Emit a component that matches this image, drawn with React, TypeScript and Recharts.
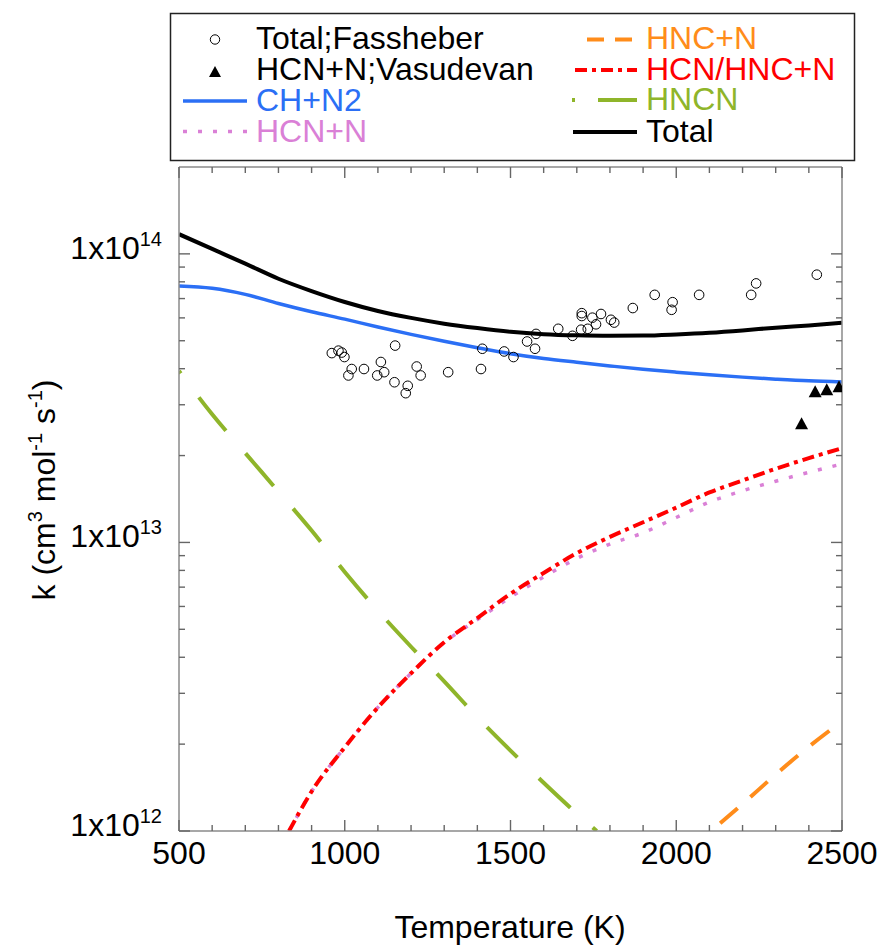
import React from 'react';
import { ComposedChart, Line, Scatter, XAxis, YAxis } from 'recharts';

// model curves
const T_GRID = [500, 600, 700, 800, 900, 1000, 1100, 1200, 1300, 1400, 1500, 1600, 1700, 1800, 1900, 2000, 2100, 2200, 2300, 2400, 2500];
const K_TOTAL = [1.17e14, 1.04e14, 9.25e13, 8.2e13, 7.43e13, 6.81e13, 6.34e13, 6.0e13, 5.73e13, 5.53e13, 5.37e13, 5.27e13, 5.22e13, 5.2e13, 5.21e13, 5.26e13, 5.33e13, 5.43e13, 5.55e13, 5.65e13, 5.77e13];
const K_CHN2 = [7.74e13, 7.6e13, 7.24e13, 6.73e13, 6.3e13, 5.94e13, 5.58e13, 5.26e13, 4.98e13, 4.73e13, 4.51e13, 4.34e13, 4.21e13, 4.09e13, 3.98e13, 3.89e13, 3.81e13, 3.74e13, 3.68e13, 3.63e13, 3.6e13];

const T_HCN = [832, 900, 1000, 1100, 1200, 1300, 1400, 1500, 1600, 1700, 1800, 1900, 2000, 2100, 2200, 2300, 2400, 2500];
const K_HCN_HNC = [1.0e12, 1.37e12, 1.95e12, 2.68e12, 3.52e12, 4.51e12, 5.47e12, 6.64e12, 7.84e12, 9.18e12, 1.045e13, 1.175e13, 1.32e13, 1.49e13, 1.64e13, 1.8e13, 1.96e13, 2.12e13];
const K_HCN = [1.0e12, 1.37e12, 1.95e12, 2.68e12, 3.52e12, 4.5e12, 5.4e12, 6.46e12, 7.59e12, 8.8e12, 9.87e12, 1.08e13, 1.22e13, 1.38e13, 1.51e13, 1.63e13, 1.75e13, 1.87e13];

const T_HNCN = [500, 600, 700, 800, 900, 1000, 1100, 1200, 1300, 1400, 1500, 1600, 1700, 1760];
const K_HNCN = [3.93e13, 2.78e13, 2.04e13, 1.5e13, 1.1e13, 7.9e12, 5.8e12, 4.35e12, 3.3e12, 2.48e12, 1.9e12, 1.47e12, 1.15e12, 1.0e12];

const T_HNC = [2105, 2200, 2300, 2400, 2500];
const K_HNC = [1.0e12, 1.24e12, 1.57e12, 1.96e12, 2.4e12];

// measurements
const T_FASSHEBER = [961, 981, 991, 999, 1021, 1011, 1058, 1109, 1119, 1098, 1152, 1150, 1190, 1184, 1217, 1229, 1312, 1411, 1415, 1481, 1509, 1550, 1574, 1577, 1644, 1687, 1715, 1715, 1713, 1733, 1747, 1758, 1773, 1803, 1813, 1869, 1935, 1989, 1986, 2069, 2226, 2241, 2424];
const K_FASSHEBER = [4.53e13, 4.62e13, 4.55e13, 4.39e13, 3.99e13, 3.79e13, 3.99e13, 4.22e13, 3.89e13, 3.79e13, 4.81e13, 3.59e13, 3.49e13, 3.29e13, 4.07e13, 3.79e13, 3.89e13, 3.99e13, 4.69e13, 4.59e13, 4.39e13, 4.97e13, 4.69e13, 5.28e13, 5.5e13, 5.2e13, 6.23e13, 6.09e13, 5.46e13, 5.5e13, 6.01e13, 5.7e13, 6.19e13, 5.91e13, 5.78e13, 6.49e13, 7.21e13, 6.8e13, 6.4e13, 7.21e13, 7.21e13, 7.9e13, 8.47e13];
const T_VASUDEVAN = [2378, 2419, 2454, 2491];
const K_VASUDEVAN = [2.58e13, 3.33e13, 3.38e13, 3.46e13];

const X_TICKS = [500, 600, 700, 800, 900, 1000, 1100, 1200, 1300, 1400, 1500, 1600, 1700, 1800, 1900, 2000, 2100, 2200, 2300, 2400, 2500];
const Y_MAJOR = [1e12, 1e13, 1e14];
const Y_MINOR_MULT = [2, 3, 4, 5, 6, 7, 8, 9];

const zip = (ts: number[], ks: number[]) => ts.map((T, i) => ({ T, k: ks[i] }));
const yTicks = [...Y_MAJOR, ...Y_MAJOR.slice(0, 2).flatMap((d) => Y_MINOR_MULT.map((m) => m * d))].sort((a, b) => a - b);

const FONT = '"Liberation Sans", Arial, Helvetica, sans-serif';
const PL = 179;
const PR = 842;
const PT = 167;
const PB = 831;
const AXIS = '#8a8a8a';
const TICK = '#666';

const C = {
  chn2: '#2b6ff5',
  hcn: '#da80d6',
  hnc: '#ff8c1a',
  hcnhnc: '#ff0000',
  hncn: '#8fb52a',
  total: '#000000',
};

const DASH = {
  hnc: '23 17',
  hcnhnc: '12 5 4 5',
  hcn: '4 11',
  hncn: '43 30',
};

// tick marks point inward, majors longer
const BottomTick = (props: any) => {
  const { x, payload } = props;
  const v = payload.value;
  const major = v % 500 === 0;
  return (
    <g>
      <path d={`M${x},${PB}V${PB - (major ? 11 : 6)}`} stroke={TICK} strokeWidth={1.4} />
      {major && (
        <text x={x} y={864} textAnchor="middle" fontSize={32} fontFamily={FONT} fill="#000">
          {v}
        </text>
      )}
    </g>
  );
};

const TopTick = (props: any) => {
  const { x, payload } = props;
  const major = payload.value % 500 === 0;
  return <path d={`M${x},${PT}V${PT + (major ? 11 : 6)}`} stroke={TICK} strokeWidth={1.4} />;
};

const LeftTick = (props: any) => {
  const { y, payload } = props;
  const v = payload.value;
  const major = Y_MAJOR.includes(v);
  const exp = Math.round(Math.log10(v));
  return (
    <g>
      <path d={`M${PL},${y}H${PL + (major ? 11 : 6)}`} stroke={TICK} strokeWidth={1.4} />
      {major && (
        <text x={162} y={y + 5} textAnchor="end" fontSize={32} fontFamily={FONT} fill="#000">
          1x10
          <tspan dy={-13} fontSize={20}>
            {exp}
          </tspan>
        </text>
      )}
    </g>
  );
};

const RightTick = (props: any) => {
  const { y, payload } = props;
  const major = Y_MAJOR.includes(payload.value);
  return <path d={`M${PR},${y}H${PR - (major ? 11 : 6)}`} stroke={TICK} strokeWidth={1.4} />;
};

const OpenCircle = (props: any) => (
  <circle cx={props.cx} cy={props.cy} r={4.8} fill="none" stroke="#000" strokeWidth={1} />
);

const FilledTriangle = (props: any) => {
  const { cx, cy } = props;
  return <polygon points={`${cx},${cy - 6.5} ${cx + 6.5},${cy + 5.5} ${cx - 6.5},${cy + 5.5}`} fill="#000" />;
};

const LegendOverlay = () => {
  const txt = { fontSize: 32, fontFamily: FONT } as const;
  return (
    <svg width={881} height={945} style={{ position: 'absolute', left: 0, top: 0, pointerEvents: 'none' }}>
      <rect x={170.5} y={13.5} width={684} height={147} fill="#fff" stroke="#222" strokeWidth={1.5} />
      {/* left column */}
      <circle cx={215} cy={39.5} r={4.7} fill="none" stroke="#000" />
      <text x={256} y={49} fill="#000" {...txt}>Total;Fassheber</text>
      <polygon points="215,66 221,77 209,77" fill="#000" />
      <text x={256} y={80} fill="#000" {...txt}>HCN+N;Vasudevan</text>
      <line x1={183} x2={247} y1={101} y2={101} stroke={C.chn2} strokeWidth={3.5} />
      <text x={256} y={111} fill={C.chn2} {...txt}>CH+N2</text>
      <line x1={183} x2={247} y1={131.5} y2={131.5} stroke={C.hcn} strokeWidth={3.5} strokeDasharray={DASH.hcn} />
      <text x={256} y={142} fill={C.hcn} {...txt}>HCN+N</text>
      {/* right column */}
      <line x1={587} x2={637} y1={39.5} y2={39.5} stroke={C.hnc} strokeWidth={4} strokeDasharray="17 11" />
      <text x={646} y={49} fill={C.hnc} {...txt}>HNC+N</text>
      <line x1={575} x2={637} y1={70} y2={70} stroke={C.hcnhnc} strokeWidth={4} strokeDasharray={DASH.hcnhnc} />
      <text x={646} y={80} fill={C.hcnhnc} {...txt}>HCN/HNC+N</text>
      <line x1={572} x2={575} y1={100} y2={100} stroke={C.hncn} strokeWidth={4} />
      <line x1={598} x2={637} y1={100} y2={100} stroke={C.hncn} strokeWidth={4} />
      <text x={646} y={110} fill={C.hncn} {...txt}>HNCN</text>
      <line x1={573} x2={637} y1={132} y2={132} stroke={C.total} strokeWidth={4} />
      <text x={646} y={142} fill="#000" {...txt}>Total</text>
      {/* axis titles */}
      <text x={510} y={938} textAnchor="middle" fill="#000" {...txt}>Temperature (K)</text>
      <text x={55} y={490} transform="rotate(-90 55 490)" textAnchor="middle" fill="#000" {...txt}>
        k (cm
        <tspan dy={-13} fontSize={20}>3</tspan>
        <tspan dy={13}> mol</tspan>
        <tspan dy={-13} fontSize={20}>-1</tspan>
        <tspan dy={13}> s</tspan>
        <tspan dy={-13} fontSize={20}>-1</tspan>
        <tspan dy={13}>)</tspan>
      </text>
    </svg>
  );
};

export default function App() {
  return (
    <div style={{ position: 'absolute', left: 0, top: 0, width: 881, height: 945, background: '#fff' }}>
      <ComposedChart width={881} height={945} margin={{ top: 157, right: 29, bottom: 74, left: 79 }}>
        <XAxis
          dataKey="T"
          type="number"
          domain={[500, 2500]}
          ticks={X_TICKS}
          interval={0}
          height={40}
          tickLine={false}
          tickSize={0}
          axisLine={{ stroke: AXIS, strokeWidth: 1.5 }}
          tick={<BottomTick />}
          allowDataOverflow
        />
        <XAxis
          xAxisId="top"
          orientation="top"
          dataKey="T"
          type="number"
          domain={[500, 2500]}
          ticks={X_TICKS}
          interval={0}
          height={10}
          tickLine={false}
          tickSize={0}
          axisLine={{ stroke: AXIS, strokeWidth: 1.5 }}
          tick={<TopTick />}
          allowDataOverflow
        />
        <YAxis
          type="number"
          scale="log"
          domain={[1e12, 2e14]}
          ticks={yTicks}
          interval={0}
          width={100}
          tickLine={false}
          tickSize={0}
          axisLine={{ stroke: AXIS, strokeWidth: 1.5 }}
          tick={<LeftTick />}
          allowDataOverflow
        />
        <YAxis
          yAxisId="right"
          orientation="right"
          type="number"
          scale="log"
          domain={[1e12, 2e14]}
          ticks={yTicks}
          interval={0}
          width={10}
          tickLine={false}
          tickSize={0}
          axisLine={{ stroke: AXIS, strokeWidth: 1.5 }}
          tick={<RightTick />}
          allowDataOverflow
        />
        <Line data={zip(T_HNCN, K_HNCN)} dataKey="k" type="monotone" stroke={C.hncn} strokeWidth={4} strokeDasharray={DASH.hncn} strokeDashoffset={40} dot={false} activeDot={false} isAnimationActive={false} />
        <Line data={zip(T_HNC, K_HNC)} dataKey="k" type="monotone" stroke={C.hnc} strokeWidth={4} strokeDasharray={DASH.hnc} strokeDashoffset={-12} dot={false} activeDot={false} isAnimationActive={false} />
        <Line data={zip(T_HCN, K_HCN)} dataKey="k" type="monotone" stroke={C.hcn} strokeWidth={3.5} strokeDasharray={DASH.hcn} dot={false} activeDot={false} isAnimationActive={false} />
        <Line data={zip(T_HCN, K_HCN_HNC)} dataKey="k" type="monotone" stroke={C.hcnhnc} strokeWidth={4} strokeDasharray={DASH.hcnhnc} dot={false} activeDot={false} isAnimationActive={false} />
        <Line data={zip(T_GRID, K_CHN2)} dataKey="k" type="monotone" stroke={C.chn2} strokeWidth={3.5} dot={false} activeDot={false} isAnimationActive={false} />
        <Line data={zip(T_GRID, K_TOTAL)} dataKey="k" type="monotone" stroke={C.total} strokeWidth={4} dot={false} activeDot={false} isAnimationActive={false} />
        <Scatter data={zip(T_FASSHEBER, K_FASSHEBER)} dataKey="k" shape={<OpenCircle />} isAnimationActive={false} />
        <Scatter data={zip(T_VASUDEVAN, K_VASUDEVAN)} dataKey="k" shape={<FilledTriangle />} isAnimationActive={false} />
      </ComposedChart>
      <LegendOverlay />
    </div>
  );
}
